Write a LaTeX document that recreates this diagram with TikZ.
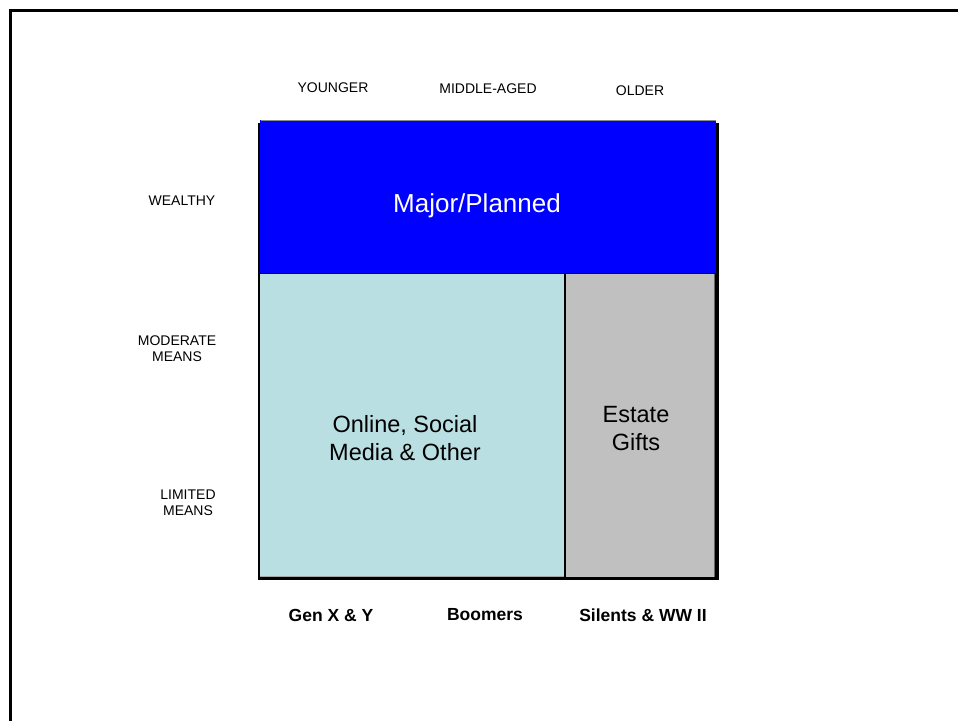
\documentclass[tikz,border=0pt]{standalone}
\usepackage{fontspec}
\setmainfont{Liberation Sans}

\definecolor{onlineblue}{RGB}{185,223,227}
\definecolor{estategray}{RGB}{192,192,192}

\begin{document}
\begin{tikzpicture}[x=1pt,y=-1pt,
    axislabel/.style={font=\fontsize{14}{16}\selectfont, align=center, inner sep=0pt},
    genlabel/.style={font=\fontsize{17.5}{20}\selectfont\bfseries, inner sep=0pt},
    celltext/.style={font=\fontsize{23.5}{28}\selectfont, align=center, inner sep=0pt}]
    \useasboundingbox (0,0) rectangle (958,721);

    % Frame
    \draw[line width=3pt] (10.5,721) -- (10.5,10.5) -- (958,10.5);

    % Shadow under the grid
    \fill[black] (258,123) rectangle (719,580);

    % Cells
    \fill[blue] (260,120) rectangle (716,273);
    \draw[black!45, line width=1pt] (261,120.5) -- (716,120.5);
    \fill[onlineblue] (260,274) rectangle (564,577);
    \draw[black!35, line width=1pt] (260,576.5) -- (564,576.5);
    \fill[estategray] (566,274) rectangle (714,577);
    \draw[black!60, line width=1pt] (714.5,274) -- (714.5,577);

    % Age labels
    \node[axislabel] (younger) at (333,88) {YOUNGER};
    \node[axislabel] (middleaged) at (488,89) {MIDDLE-AGED};
    \node[axislabel] (older) at (640,91) {OLDER};

    % Means labels
    \node[axislabel] (wealthy) at (182,201) {WEALTHY};
    \node[axislabel] (moderate) at (177,349) {MODERATE\\MEANS};
    \node[axislabel] (limited) at (188,503) {LIMITED\\MEANS};

    % Cell texts
    \node[white, font=\fontsize{26}{30}\selectfont, inner sep=0pt] (major) at (477,206) {Major/Planned};
    \node[celltext] (online) at (405,438) {Online, Social\\Media \& Other};
    \node[celltext] (estate) at (636,429) {Estate\\Gifts};

    % Generations
    \node[genlabel] (genxy) at (331,615) {Gen X \& Y};
    \node[genlabel] (boomers) at (485,615) {Boomers};
    \node[genlabel] (silents) at (643,615) {Silents \& WW II};
\end{tikzpicture}
\end{document}
